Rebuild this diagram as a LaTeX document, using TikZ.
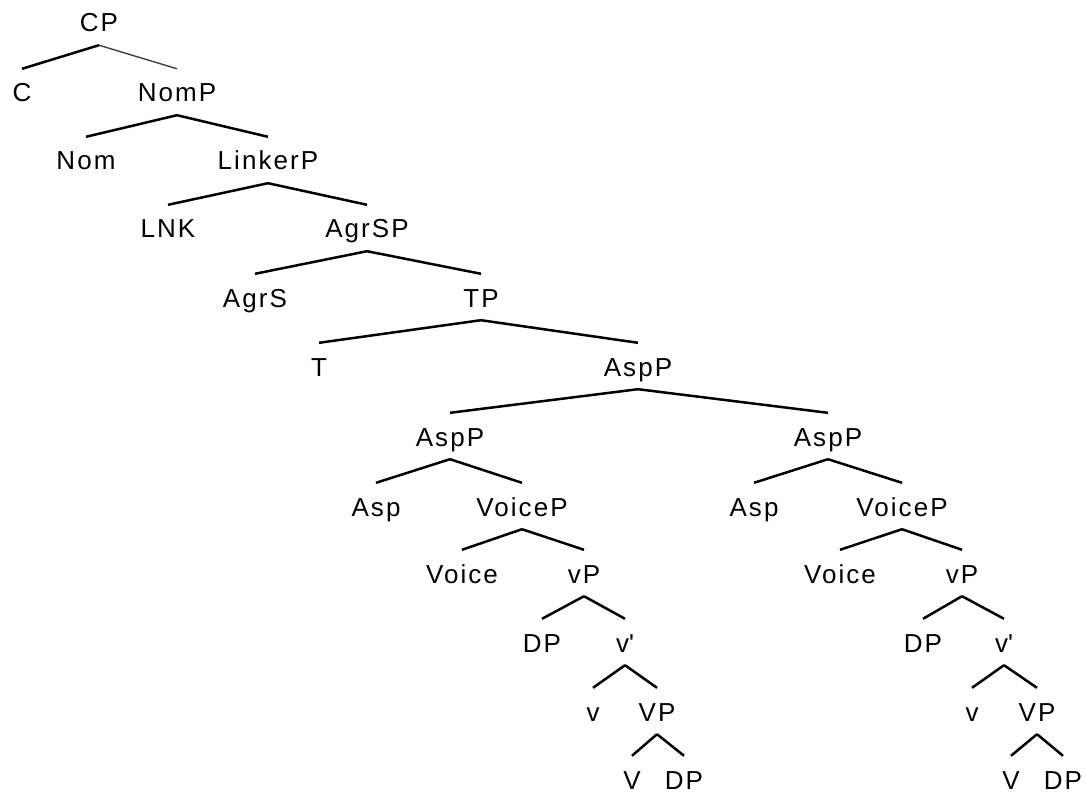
\documentclass[tikz,border=0pt]{standalone}
\usepackage{fontspec}
\setmainfont{Liberation Sans}[LetterSpace=8]

\begin{document}
\begin{tikzpicture}[x=1pt,y=-1pt,
    cat/.style={anchor=base,inner xsep=0pt,inner ysep=6pt,text height=27pt,text depth=7pt,font=\fontsize{26}{30}\selectfont},
    branch/.style={line width=2.5pt}]
\useasboundingbox (0,0) rectangle (1086,794);

% spine
\node[cat] (CP) at (99,32) {CP};
\node[cat] (C) at (22,102) {C};
\node[cat] (NomP) at (177,102) {NomP};
\node[cat] (Nom) at (86,170) {Nom};
\node[cat] (LinkerP) at (268,170) {LinkerP};
\node[cat] (LNK) at (168,238) {LNK};
\node[cat] (AgrSP) at (367,238) {AgrSP};
\node[cat] (AgrS) at (255,307) {AgrS};
\node[cat] (TP) at (481,307) {TP};
\node[cat] (T) at (319,376) {T};
\node[cat] (AspP) at (638,376) {AspP};

% left AspP
\node[cat] (AspPa) at (450,446) {AspP};
\node[cat] (Aspa) at (376,516) {Asp};
\node[cat] (VoicePa) at (522,516) {VoiceP};
\node[cat] (Voicea) at (462,583) {Voice};
\node[cat] (vPa) at (584,583) {vP};
\node[cat] (DPa) at (542,652) {DP};
\node[cat] (vbara) at (625,652) {v\textquotesingle};
\node[cat] (va) at (593,721) {v};
\node[cat] (VPa) at (657,721) {VP};
\node[cat] (Va) at (632,789) {V};
\node[cat] (DPc) at (684,789) {DP};

% right AspP
\node[cat] (AspPb) at (828,446) {AspP};
\node[cat] (Aspb) at (754,516) {Asp};
\node[cat] (VoicePb) at (902,516) {VoiceP};
\node[cat] (Voiceb) at (840,583) {Voice};
\node[cat] (vPb) at (962,583) {vP};
\node[cat] (DPb) at (923,652) {DP};
\node[cat] (vbarb) at (1004,652) {v\textquotesingle};
\node[cat] (vb) at (972,721) {v};
\node[cat] (VPb) at (1037,721) {VP};
\node[cat] (Vb) at (1011,789) {V};
\node[cat] (DPd) at (1063,789) {DP};

\draw[branch] (CP.south) -- (C.north);
\draw[line width=1.4pt,black!75] (CP.south) -- (NomP.north);
\draw[branch] (NomP.south) -- (Nom.north);
\draw[branch] (NomP.south) -- (LinkerP.north);
\draw[branch] (LinkerP.south) -- (LNK.north);
\draw[branch] (LinkerP.south) -- (AgrSP.north);
\draw[branch] (AgrSP.south) -- (AgrS.north);
\draw[branch] (AgrSP.south) -- (TP.north);
\draw[branch] (TP.south) -- (T.north);
\draw[branch] (TP.south) -- (AspP.north);
\draw[branch] (AspP.south) -- (AspPa.north);
\draw[branch] (AspP.south) -- (AspPb.north);

\draw[branch] (AspPa.south) -- (Aspa.north);
\draw[branch] (AspPa.south) -- (VoicePa.north);
\draw[branch] (VoicePa.south) -- (Voicea.north);
\draw[branch] (VoicePa.south) -- (vPa.north);
\draw[branch] (vPa.south) -- (DPa.north);
\draw[branch] (vPa.south) -- (vbara.north);
\draw[branch] (vbara.south) -- (va.north);
\draw[branch] (vbara.south) -- (VPa.north);
\draw[branch] (VPa.south) -- (Va.north);
\draw[branch] (VPa.south) -- (DPc.north);

\draw[branch] (AspPb.south) -- (Aspb.north);
\draw[branch] (AspPb.south) -- (VoicePb.north);
\draw[branch] (VoicePb.south) -- (Voiceb.north);
\draw[branch] (VoicePb.south) -- (vPb.north);
\draw[branch] (vPb.south) -- (DPb.north);
\draw[branch] (vPb.south) -- (vbarb.north);
\draw[branch] (vbarb.south) -- (vb.north);
\draw[branch] (vbarb.south) -- (VPb.north);
\draw[branch] (VPb.south) -- (Vb.north);
\draw[branch] (VPb.south) -- (DPd.north);
\end{tikzpicture}
\end{document}
